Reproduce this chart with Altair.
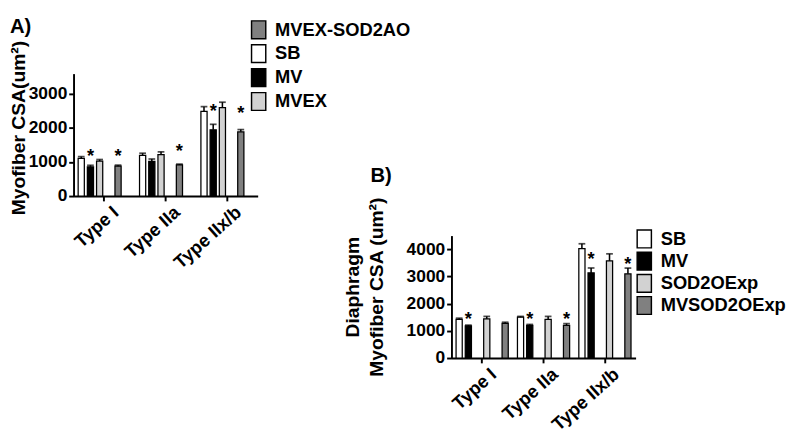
import altair as alt
import pandas as pd

categories = ["Type I", "Type IIa", "Type IIx/b"]

# ---- Panel A ----
a_groups = ["SB", "MV", "MVEX", "MVEX-SOD2AO"]
a_legend_order = ["MVEX-SOD2AO", "SB", "MV", "MVEX"]
a_legend_colors = ["#808080", "#ffffff", "#000000", "#d2d2d2"]
a_sb = [1110, 1200, 2490]
a_mv = [860, 1020, 1950]
a_mvex = [1030, 1220, 2600]
a_mvexsod = [880, 915, 1890]
a_sb_err = [50, 60, 140]
a_mv_err = [45, 70, 160]
a_mvex_err = [45, 80, 160]
a_mvexsod_err = [30, 25, 65]
a_mv_star = [1295, None, 2598]
a_mvexsod_star = [1295, 1436, 2550]

# ---- Panel B ----
b_groups = ["SB", "MV", "SOD2OExp", "MVSOD2OExp"]
b_legend_order = ["SB", "MV", "SOD2OExp", "MVSOD2OExp"]
b_legend_colors = ["#ffffff", "#000000", "#d2d2d2", "#808080"]
b_sb = [1420, 1500, 4020]
b_mv = [1180, 1205, 3130]
b_sod = [1440, 1420, 3570]
b_mvsod = [1276, 1205, 3096]
b_sb_err = [45, 30, 180]
b_mv_err = [30, 30, 180]
b_sod_err = [90, 110, 260]
b_mvsod_err = [40, 60, 210]
b_mv_star = [1578, 1578, 3770]
b_mvsod_star = [None, 1578, 3590]

FONT = "Liberation Sans"


def build_df(groups, vals, errs, stars):
    rows = []
    for g, v, e, s in zip(groups, vals, errs, stars):
        for i, c in enumerate(categories):
            rows.append({"cat": c, "grp": g, "value": v[i], "err": e[i],
                         "top": v[i] + e[i],
                         "star": (s[i] if s is not None else None)})
    return pd.DataFrame(rows)


def panel(df, groups, legend_order, legend_colors, ydomain, yticks, ytitle,
          title_text, title_dx, title_dy, legend_x, legend_y, row_pad,
          title_pad, title_y, height):
    xenc = alt.X("cat:N", sort=categories,
                 scale=alt.Scale(paddingInner=0, paddingOuter=0),
                 axis=alt.Axis(title=None, labelAngle=-42, labelAlign="right",
                               labelBaseline="top", labelPadding=2,
                               labelOffset=6, labelFontSize=19))
    xoff = alt.XOffset("grp:N", sort=groups,
                       scale=alt.Scale(paddingInner=0.33, paddingOuter=0.5))
    yaxis = alt.Axis(values=yticks, format="d", title=ytitle,
                     titlePadding=title_pad, titleY=title_y,
                     titleLineHeight=25)
    yscale = alt.Scale(domain=ydomain, nice=False)

    base = alt.Chart(df)
    bars = base.mark_bar(stroke="black", strokeWidth=1.3).encode(
        x=xenc, xOffset=xoff,
        y=alt.Y("value:Q", scale=yscale, axis=yaxis),
        color=alt.Color("grp:N",
                        scale=alt.Scale(domain=legend_order, range=legend_colors),
                        legend=alt.Legend(
                            title=None, orient="none", legendX=legend_x,
                            legendY=legend_y,
                            symbolType="M-0.8,-1L0.8,-1L0.8,1L-0.8,1Z",
                            symbolSize=340, symbolStrokeColor="black",
                            symbolStrokeWidth=1.5, symbolOpacity=1,
                            labelFont=FONT, labelFontWeight="bold",
                            labelFontSize=19, labelColor="black",
                            labelOffset=7, rowPadding=row_pad)),
    )
    rules = base.mark_rule(color="black", strokeWidth=1.6).encode(
        x=xenc, xOffset=xoff,
        y=alt.Y("value:Q", scale=yscale, axis=yaxis),
        y2="top:Q",
    )
    caps = base.mark_tick(color="black", thickness=1.8, size=7,
                          orient="horizontal").encode(
        x=xenc, xOffset=xoff,
        y=alt.Y("top:Q", scale=yscale, axis=yaxis),
    )
    stars = base.transform_filter("isValid(datum.star)").mark_text(
        text="*", font=FONT, fontWeight="bold", fontSize=19, color="black",
        baseline="middle", dy=4).encode(
        x=xenc, xOffset=xoff,
        y=alt.Y("star:Q", scale=yscale, axis=yaxis),
    )
    return alt.layer(bars, rules, caps, stars).properties(
        width=191, height=height,
        title=alt.TitleParams(title_text, anchor="start", frame="group",
                              dx=title_dx, dy=title_dy, offset=40, font=FONT,
                              fontWeight="bold", fontSize=21, color="black"),
    )


df_a = build_df(a_groups, [a_sb, a_mv, a_mvex, a_mvexsod],
                [a_sb_err, a_mv_err, a_mvex_err, a_mvexsod_err],
                [None, a_mv_star, None, a_mvexsod_star])
df_b = build_df(b_groups, [b_sb, b_mv, b_sod, b_mvsod],
                [b_sb_err, b_mv_err, b_sod_err, b_mvsod_err],
                [None, b_mv_star, None, b_mvsod_star])

chart_a = panel(df_a, a_groups, a_legend_order, a_legend_colors, [0, 3600],
                [0, 1000, 2000, 3000], "Myofiber CSA(um²)", "A)", -66, 57,
                182, -55.5, -1.2, 0, 56, 127)
chart_b = panel(df_b, b_groups, b_legend_order, b_legend_colors, [0, 4500],
                [0, 1000, 2000, 3000, 4000],
                ["Diaphragm", "Myofiber CSA (um²)"], "B)", -84, 29,
                190, -6.5, -3, 20, 53, 127)

spacer = alt.Chart(pd.DataFrame({"s": [0]})).mark_point(opacity=0).encode(
    x=alt.value(0), y=alt.value(0)).properties(width=392, height=127)

bottom = alt.hconcat(spacer, chart_b, spacing=0, bounds="flush").resolve_scale(
    color="independent")

chart = alt.vconcat(chart_a, bottom, spacing=41, bounds="flush").resolve_scale(
    color="independent"
).properties(
    padding={"left": 0, "top": 0, "right": 0, "bottom": 0}
).configure_view(stroke=None).configure_axis(
    grid=False, domainColor="black", domainWidth=2, tickColor="black",
    tickWidth=2, tickSize=5, labelFont=FONT, labelFontWeight="bold",
    labelFontSize=18, labelColor="black", labelPadding=2, titleFont=FONT,
    titleFontWeight="bold", titleFontSize=20, titleColor="black",
)

chart.save("out.html", embed_options={"renderer": "svg", "actions": False})
